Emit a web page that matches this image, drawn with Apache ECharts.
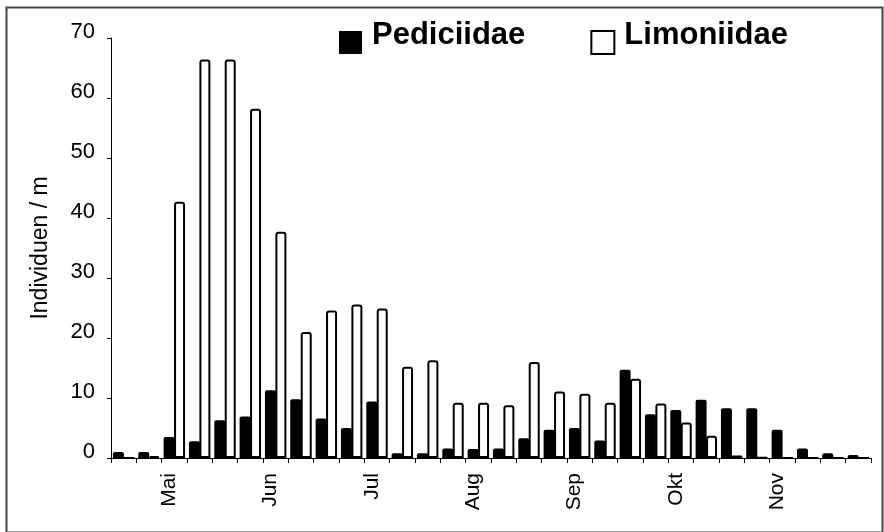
<!DOCTYPE html>
<html>
<head>
<meta charset="utf-8">
<script src="https://cdn.jsdelivr.net/npm/echarts@6/dist/echarts.min.js"></script>
<style>html,body{margin:0;padding:0;background:#fff;}#c{width:884px;height:532px;}</style>
</head>
<body>
<div id="c"></div>
<script>
const categories = ['', '', 'Mai', '', '', '', 'Jun', '', '', '', 'Jul', '', '', '', 'Aug', '', '', '', 'Sep', '', '', '', 'Okt', '', '', '', 'Nov', '', '', ''];
const pediciidae = [1.0, 1.0, 3.5, 2.8, 6.3, 6.9, 11.3, 9.8, 6.6, 5.0, 9.4, 0.8, 0.8, 1.6, 1.5, 1.6, 3.3, 4.7, 5.0, 2.9, 14.7, 7.3, 8.0, 9.7, 8.3, 8.3, 4.7, 1.6, 0.8, 0.5];
const limoniidae = [0, 0.3, 42.7, 66.4, 66.4, 58.2, 37.7, 21.0, 24.6, 25.6, 24.9, 15.2, 16.3, 9.2, 9.2, 8.8, 16.0, 11.1, 10.7, 9.2, 13.2, 9.1, 5.9, 3.7, 0.4, 0.1, 0, 0, 0, 0];
const yTicks = [0, 10, 20, 30, 40, 50, 60, 70];

const font = "'Liberation Sans', Arial, sans-serif";
const chart = echarts.init(document.getElementById('c'), null, {renderer: 'canvas'});
chart.setOption({
  animation: false,
  backgroundColor: '#fff',
  textStyle: {fontFamily: font, color: '#000'},
  graphic: [{
    type: 'rect', left: 4, top: 5, silent: true,
    shape: {width: 876, height: 525},
    style: {fill: 'none', stroke: '#444', lineWidth: 2}
  }],
  legend: {
    left: 339, top: 20, padding: 0,
    itemWidth: 23, itemHeight: 23, itemGap: 65,
    icon: 'rect',
    formatter: '{t|{name}}',
    textStyle: {
      fontFamily: font, fontSize: 31, fontWeight: 'bold', color: '#000',
      padding: [0, 0, 14, 5],
      rich: {t: {fontFamily: font, fontSize: 31, fontWeight: 'bold', color: '#000', lineHeight: 30}}
    },
    data: ['Pediciidae', 'Limoniidae']
  },
  grid: {left: 111, right: 13, top: 38, bottom: 74, containLabel: false},
  xAxis: {
    type: 'category', data: categories,
    axisLine: {lineStyle: {color: '#000', width: 1}},
    axisTick: {show: true, interval: 0, length: 5, lineStyle: {color: '#000'}},
    axisLabel: {interval: 0, rotate: 90, margin: 15, fontSize: 21, color: '#000', fontFamily: font, verticalAlign: 'bottom', lineHeight: 10},
    splitLine: {show: false}
  },
  yAxis: {
    type: 'value', min: yTicks[0], max: yTicks[yTicks.length - 1], interval: 10,
    name: 'Individuen / m', nameLocation: 'middle', nameRotate: 90, nameGap: 59,
    nameTextStyle: {fontSize: 23, color: '#000', fontFamily: font},
    axisLine: {show: true, lineStyle: {color: '#000', width: 1}},
    axisTick: {show: true, length: 4, lineStyle: {color: '#000'}},
    axisLabel: {margin: 16, fontSize: 22, color: '#000', fontFamily: font, verticalAlign: 'bottom', lineHeight: 13},
    splitLine: {show: false}
  },
  series: [
    {
      name: 'Pediciidae', type: 'bar', data: pediciidae,
      barWidth: 11, barGap: '-5%',
      itemStyle: {color: '#000', borderRadius: [2, 2, 0, 0]}
    },
    {
      name: 'Limoniidae', type: 'bar', data: limoniidae,
      barWidth: 11,
      itemStyle: {color: '#fff', borderColor: '#000', borderWidth: 2, borderRadius: [2, 2, 0, 0]}
    }
  ]
});
</script>
</body>
</html>
